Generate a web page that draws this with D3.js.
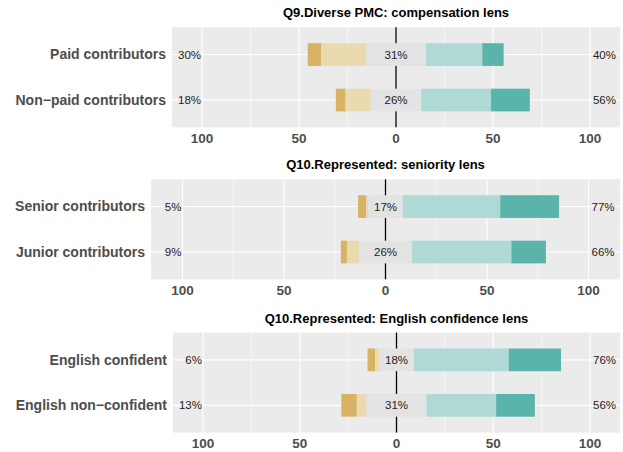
<!DOCTYPE html>
<html>
<head>
<meta charset="utf-8">
<script src="https://cdn.jsdelivr.net/npm/d3@7"></script>
<style>
  body { margin: 0; background: #fff; }
  text { font-family: "Liberation Sans", Arial, sans-serif; }
</style>
</head>
<body>
<div id="chart"></div>
<script>
// Panel titles and row labels
const titles = [
  "Q9.Diverse PMC: compensation lens",
  "Q10.Represented: seniority lens",
  "Q10.Represented: English confidence lens"
];
const rowLabels = [
  ["Paid contributors", "Non\u2212paid contributors"],
  ["Senior contributors", "Junior contributors"],
  ["English confident", "English non\u2212confident"]
];

// Percent of answers per level, one pair per panel
const stronglyDisagree = [[7, 5], [4, 3], [4, 8]];
const disagree = [[23, 13], [1, 6], [2, 5]];
const neutral = [[31, 26], [17, 26], [18, 31]];
const agree = [[29, 36], [48, 49], [49, 36]];
const stronglyAgree = [[11, 20], [29, 17], [27, 20]];

const tickValues = [-100, -50, 0, 50, 100];
const minorTicks = [-75, -25, 25, 75];

const colors = ["#d8b365", "#ebd9b0", "#e3e3e3", "#aed9d5", "#5ab4ac"];

const width = 623, height = 452;
const panelRight = 620;
const panelLefts = [172, 151, 173];
const panelTops = [27.3, 179.3, 332.6];
const panelHeight = 100;

const svg = d3.select("#chart")
  .append("svg")
  .attr("width", width)
  .attr("height", height);

titles.forEach(function(title, p) {
  const top = panelTops[p];
  const left = panelLefts[p];

  const x = d3.scaleLinear()
    .domain([-115.5, 115.5])
    .range([left, panelRight]);

  const y = d3.scalePoint()
    .domain(rowLabels[p])
    .range([top, top + panelHeight])
    .padding(0.6);

  const barH = y.step() * 0.5;

  const g = svg.append("g");

  // panel background
  g.append("rect")
    .attr("x", left)
    .attr("y", top)
    .attr("width", panelRight - left)
    .attr("height", panelHeight)
    .attr("fill", "#ebebeb");

  // grid
  g.selectAll(".minor")
    .data(minorTicks)
    .enter()
    .append("line")
    .attr("x1", d => x(d)).attr("x2", d => x(d))
    .attr("y1", top).attr("y2", top + panelHeight)
    .attr("stroke", "#fff").attr("stroke-width", 0.6);

  g.selectAll(".major")
    .data(tickValues)
    .enter()
    .append("line")
    .attr("x1", d => x(d)).attr("x2", d => x(d))
    .attr("y1", top).attr("y2", top + panelHeight)
    .attr("stroke", "#fff").attr("stroke-width", 1.1);

  g.selectAll(".hgrid")
    .data(rowLabels[p])
    .enter()
    .append("line")
    .attr("x1", left).attr("x2", panelRight)
    .attr("y1", d => y(d)).attr("y2", d => y(d))
    .attr("stroke", "#fff").attr("stroke-width", 1.1);

  // zero line, under the bars
  g.append("line")
    .attr("x1", x(0)).attr("x2", x(0))
    .attr("y1", top).attr("y2", top + panelHeight)
    .attr("stroke", "#000").attr("stroke-width", 1.3);

  // stacked segments, neutral centred on zero
  rowLabels[p].forEach(function(label, i) {
    const vals = [stronglyDisagree[p][i], disagree[p][i], neutral[p][i], agree[p][i], stronglyAgree[p][i]];
    const half = vals[2] / 2;
    const segs = [
      [-half - vals[1] - vals[0], -half - vals[1]],
      [-half - vals[1], -half],
      [-half, half],
      [half, half + vals[3]],
      [half + vals[3], half + vals[3] + vals[4]]
    ];
    g.selectAll(".seg" + i)
      .data(segs)
      .enter()
      .append("rect")
      .attr("x", d => x(d[0]))
      .attr("y", y(label) - barH / 2)
      .attr("width", d => x(d[1]) - x(d[0]))
      .attr("height", barH)
      .attr("fill", (d, k) => colors[k]);

    // percentage labels
    g.append("text")
      .attr("x", x(-100) - 1)
      .attr("y", y(label))
      .attr("dy", "0.35em")
      .attr("text-anchor", "end")
      .attr("font-size", "11.5px")
      .attr("fill", "#222")
      .text((vals[0] + vals[1]) + "%");

    g.append("text")
      .attr("x", x(0))
      .attr("y", y(label))
      .attr("dy", "0.35em")
      .attr("text-anchor", "middle")
      .attr("font-size", "11.5px")
      .attr("fill", "#222")
      .text(vals[2] + "%");

    g.append("text")
      .attr("x", x(100) + 3)
      .attr("y", y(label))
      .attr("dy", "0.35em")
      .attr("text-anchor", "start")
      .attr("font-size", "11.5px")
      .attr("fill", "#222")
      .text((vals[3] + vals[4]) + "%");
  });

  // row labels
  g.selectAll(".rowlab")
    .data(rowLabels[p])
    .enter()
    .append("text")
    .attr("x", left - 6)
    .attr("y", d => y(d))
    .attr("dy", "0.35em")
    .attr("text-anchor", "end")
    .attr("font-size", "14px")
    .attr("font-weight", "bold")
    .attr("fill", "#4d4d4d")
    .text(d => d);

  // x axis labels
  g.selectAll(".tick")
    .data(tickValues)
    .enter()
    .append("text")
    .attr("x", d => x(d))
    .attr("y", top + panelHeight + 11)
    .attr("dy", "0.35em")
    .attr("text-anchor", "middle")
    .attr("font-size", "13.5px")
    .attr("font-weight", "bold")
    .attr("fill", "#4d4d4d")
    .text(d => Math.abs(d));

  // title
  g.append("text")
    .attr("x", (left + panelRight) / 2)
    .attr("y", top - 14.5)
    .attr("dy", "0.35em")
    .attr("text-anchor", "middle")
    .attr("font-size", "13px")
    .attr("font-weight", "bold")
    .attr("fill", "#000")
    .text(title);
});
</script>
</body>
</html>
